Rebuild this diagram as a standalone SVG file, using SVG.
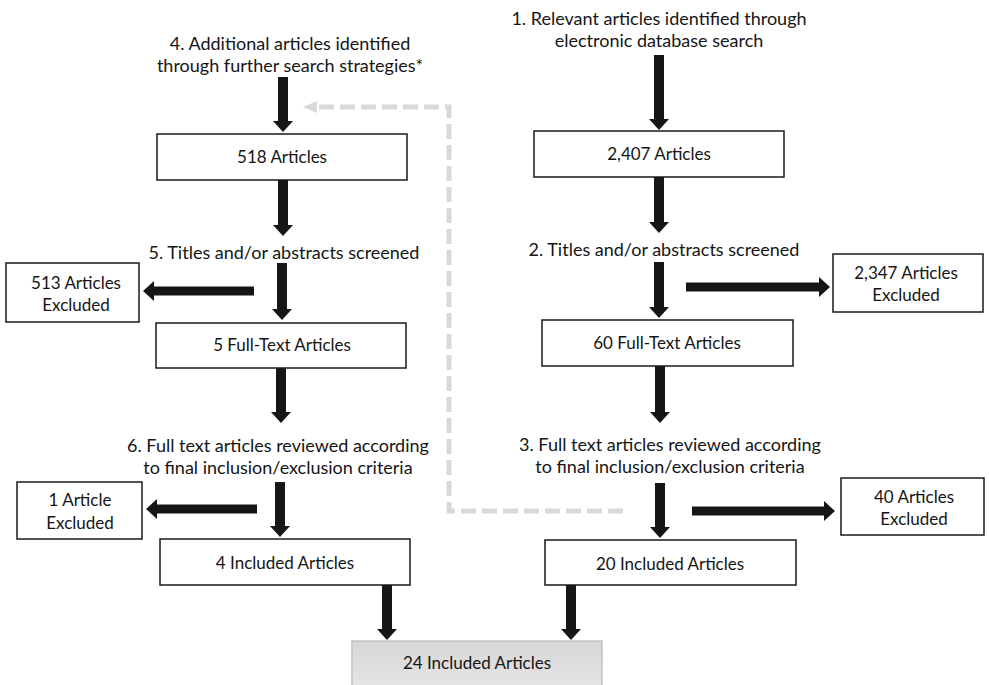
<svg xmlns="http://www.w3.org/2000/svg" width="989" height="685" viewBox="0 0 989 685">
<style>
.t{font-family:Lato,"Open Sans","Liberation Sans",sans-serif;font-size:17px;fill:#151515;text-anchor:middle}
.l{font-size:18px}
.b{fill:#fff;stroke:#1a1a1a;stroke-width:1.5}
.a{fill:#161616}
.d{fill:none;stroke:#d9d9d9;stroke-width:5;stroke-dasharray:15 6}
</style>
<defs>
<linearGradient id="g" x1="0" y1="0" x2="0" y2="1">
<stop offset="0" stop-color="#d6d6d6"/>
<stop offset="1" stop-color="#e6e6e6"/>
</linearGradient>
</defs>
<rect width="989" height="685" fill="#fff"/>
<g id="connectors">
<path class="d" d="M623,511 H449 V107 H317"/>
<polygon points="317,101 303,107 317,113" fill="#d9d9d9"/>
<polygon class="a" points="278,77 288,77 288,121 293,121 283,132 273,121 278,121"/>
<polygon class="a" points="278,180 288,180 288,225 293,225 283,236 273,225 278,225"/>
<polygon class="a" points="277,263 287,263 287,309 292,309 282,320 272,309 277,309"/>
<polygon class="a" points="276,368 286,368 286,412 291,412 281,423 271,412 276,412"/>
<polygon class="a" points="275,482 285,482 285,526 290,526 280,537 270,526 275,526"/>
<polygon class="a" points="382,585 392,585 392,629 397,629 387,640 377,629 382,629"/>
<polygon class="a" points="654,55 664,55 664,119 669,119 659,130 649,119 654,119"/>
<polygon class="a" points="654,177 664,177 664,222 669,222 659,233 649,222 654,222"/>
<polygon class="a" points="654,262 664,262 664,307 669,307 659,318 649,307 654,307"/>
<polygon class="a" points="655,366 665,366 665,412 670,412 660,423 650,412 655,412"/>
<polygon class="a" points="655,483 665,483 665,527 670,527 660,538 650,527 655,527"/>
<polygon class="a" points="566,585 576,585 576,629 581,629 571,640 561,629 566,629"/>
<polygon class="a" points="254,286.5 254,295.5 154,295.5 154,301 143,291 154,281 154,286.5"/>
<polygon class="a" points="257,504.5 257,513.5 157,513.5 157,519 146,509 157,499 157,504.5"/>
<polygon class="a" points="686,282.5 686,291.5 819,291.5 819,297 830,287 819,277 819,282.5"/>
<polygon class="a" points="692,506.5 692,515.5 824,515.5 824,521 835,511 824,501 824,506.5"/>
</g>
<g id="label4">
<text class="t l" x="290" y="50">4. Additional articles identified</text>
<text class="t l" x="290" y="72">through further search strategies*</text>
</g>
<g id="label1">
<text class="t l" x="659" y="25">1. Relevant articles identified through</text>
<text class="t l" x="659" y="47">electronic database search</text>
</g>
<g id="n518">
<rect class="b" x="157" y="134" width="250" height="46"/>
<text class="t" x="282" y="163">518 Articles</text>
</g>
<g id="n2407">
<rect class="b" x="534" y="131" width="250" height="46"/>
<text class="t" x="659" y="160">2,407 Articles</text>
</g>
<g id="label5">
<text class="t l" x="284" y="259">5. Titles and/or abstracts screened</text>
</g>
<g id="label2">
<text class="t l" x="664" y="256">2. Titles and/or abstracts screened</text>
</g>
<g id="n513">
<rect class="b" x="6" y="263" width="133" height="59"/>
<text class="t" x="76" y="289">513 Articles</text>
<text class="t" x="76" y="311">Excluded</text>
</g>
<g id="n2347">
<rect class="b" x="833" y="254" width="150" height="58"/>
<text class="t" x="906" y="279">2,347 Articles</text>
<text class="t" x="906" y="301">Excluded</text>
</g>
<g id="n5ft">
<rect class="b" x="156" y="323" width="250" height="45"/>
<text class="t" x="282" y="351">5 Full-Text Articles</text>
</g>
<g id="n60ft">
<rect class="b" x="542" y="320" width="251" height="46"/>
<text class="t" x="667" y="349">60 Full-Text Articles</text>
</g>
<g id="label6">
<text class="t l" x="278" y="452">6. Full text articles reviewed according</text>
<text class="t l" x="278" y="474">to final inclusion/exclusion criteria</text>
</g>
<g id="label3">
<text class="t l" x="670" y="451">3. Full text articles reviewed according</text>
<text class="t l" x="670" y="473">to final inclusion/exclusion criteria</text>
</g>
<g id="n1ex">
<rect class="b" x="17" y="482" width="125" height="57"/>
<text class="t" x="80" y="506">1 Article</text>
<text class="t" x="80" y="529">Excluded</text>
</g>
<g id="n40ex">
<rect class="b" x="841" y="478" width="143" height="57"/>
<text class="t" x="914" y="503">40 Articles</text>
<text class="t" x="914" y="525">Excluded</text>
</g>
<g id="n4inc">
<rect class="b" x="160" y="539" width="250" height="46"/>
<text class="t" x="285" y="569">4 Included Articles</text>
</g>
<g id="n20inc">
<rect class="b" x="545" y="540" width="251" height="45"/>
<text class="t" x="670" y="570">20 Included Articles</text>
</g>
<g id="n24inc">
<rect x="352" y="641" width="250" height="50" fill="url(#g)" stroke="#c2c2c2" stroke-width="1.5"/>
<text class="t" x="477" y="669">24 Included Articles</text>
</g>
</svg>
